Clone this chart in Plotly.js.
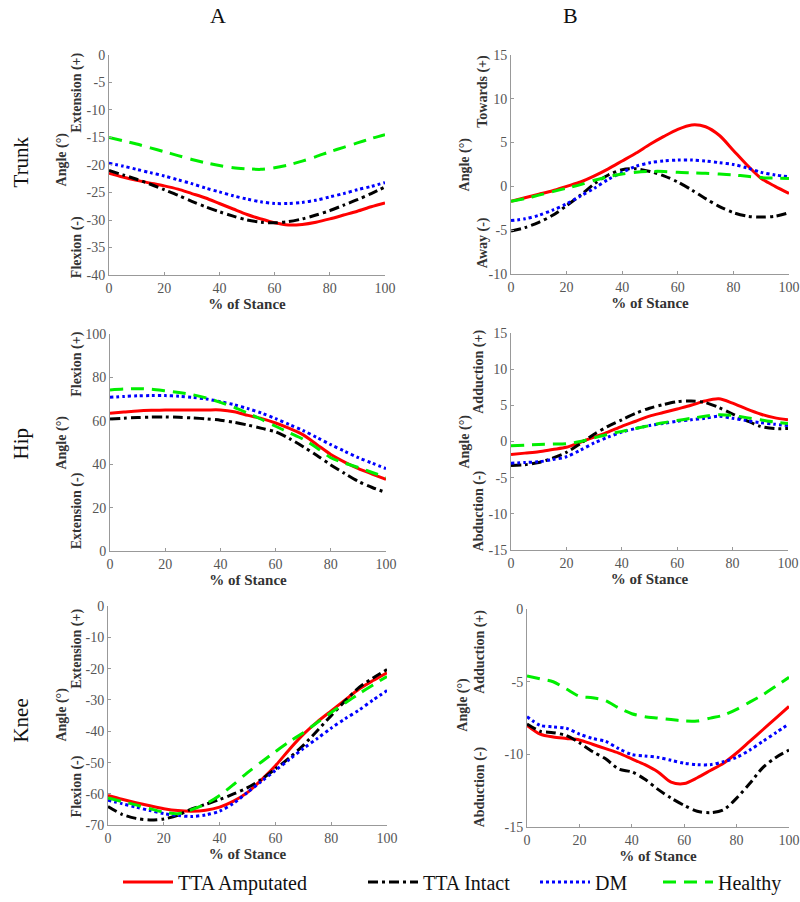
<!DOCTYPE html>
<html><head><meta charset="utf-8">
<script src="https://cdn.plot.ly/plotly-3.0.1.min.js"></script>
<style>html,body{margin:0;padding:0;background:#fff}#plot{width:800px;height:902px}</style>
</head><body><div id="plot"></div>
<script>
// % of stance grid
const stance = [0,5,10,15,20,25,30,35,40,45,50,55,60,65,70,75,80,85,90,95,100];
const groups = ["TTA Amputated","TTA Intact","DM","Healthy"];

// Trunk - A (flexion/extension)
const trunkA_amp = [-21.5,-22.2,-22.8,-23.3,-23.8,-24.4,-25.2,-26.0,-27.0,-28.0,-29.0,-29.8,-30.5,-30.9,-30.8,-30.4,-29.8,-29.1,-28.4,-27.6,-26.9];
const trunkA_int = [-21.0,-21.8,-22.6,-23.5,-24.5,-25.5,-26.6,-27.6,-28.5,-29.3,-30.0,-30.4,-30.5,-30.3,-29.8,-29.1,-28.3,-27.3,-26.3,-25.2,-24.0];
const trunkA_dm  = [-19.7,-20.2,-20.8,-21.4,-22.0,-22.7,-23.4,-24.2,-24.9,-25.6,-26.2,-26.7,-27.0,-27.0,-26.8,-26.4,-25.8,-25.2,-24.5,-23.9,-23.2];
const trunkA_hea = [-15.0,-15.6,-16.2,-16.9,-17.6,-18.3,-19.0,-19.6,-20.1,-20.5,-20.7,-20.8,-20.5,-20.0,-19.3,-18.5,-17.6,-16.8,-16.0,-15.2,-14.5];

// Trunk - B (towards/away)
const trunkB_amp = [-1.7,-1.3,-0.9,-0.5,0.0,0.5,1.2,2.0,2.9,3.8,4.8,5.7,6.5,7.0,6.8,5.8,4.1,2.4,0.9,0.0,-0.8];
const trunkB_int = [-5.1,-4.7,-4.1,-3.3,-2.2,-1.0,0.3,1.3,1.9,2.0,1.7,1.2,0.5,-0.4,-1.4,-2.3,-3.0,-3.4,-3.5,-3.4,-3.0];
const trunkB_dm  = [-3.9,-3.7,-3.3,-2.7,-2.0,-1.1,-0.2,0.8,1.6,2.3,2.7,2.9,3.0,3.0,2.9,2.7,2.5,2.1,1.6,1.3,1.1];
const trunkB_hea = [-1.7,-1.4,-1.0,-0.6,-0.2,0.2,0.7,1.1,1.4,1.6,1.7,1.7,1.6,1.55,1.5,1.4,1.3,1.15,1.0,0.95,0.9];

// Hip - A (flexion/extension)
const hipA_amp = [63.5,64.0,64.5,64.8,65.0,65.0,65.0,65.0,65.0,64.2,62.5,61.0,59.0,56.5,53.5,49.0,44.5,41.0,38.0,35.5,33.0];
const hipA_int = [60.8,61.2,61.5,61.7,61.8,61.6,61.3,60.9,60.3,59.3,58.0,56.5,54.9,51.8,48.1,44.0,39.7,35.8,32.1,29.3,27.0];
const hipA_dm  = [70.8,71.2,71.5,71.6,71.6,71.3,70.8,70.0,68.8,67.4,65.6,63.5,61.0,58.3,55.5,52.3,49.0,46.0,43.0,40.5,38.0];
const hipA_hea = [74.2,74.6,74.8,74.5,73.8,73.0,72.0,70.5,68.5,66.2,63.5,60.6,57.5,54.5,51.5,47.5,43.0,40.5,38.5,36.2,34.0];

// Hip - B (adduction/abduction)
const hipB_amp = [-1.8,-1.6,-1.4,-1.1,-0.8,-0.1,0.6,1.3,2.1,2.8,3.5,4.0,4.5,5.0,5.6,5.9,5.3,4.5,3.8,3.3,3.0];
const hipB_int = [-3.3,-3.2,-2.9,-2.3,-1.5,-0.3,1.0,2.1,3.0,3.9,4.6,5.1,5.5,5.6,5.4,4.7,3.8,2.9,2.1,1.8,1.8];
const hipB_dm  = [-3.0,-2.9,-2.8,-2.5,-2.1,-1.2,-0.2,0.6,1.3,1.8,2.2,2.5,2.8,3.0,3.2,3.5,3.2,2.9,2.6,2.4,2.2];
const hipB_hea = [-0.6,-0.5,-0.4,-0.35,-0.3,0.0,0.5,1.0,1.4,1.8,2.2,2.6,2.9,3.2,3.5,3.7,3.6,3.3,3.0,2.7,2.5];

// Knee - A (extension/flexion)
const kneeA_amp = [-60.5,-61.7,-62.8,-63.8,-64.7,-65.3,-65.5,-65.2,-64.2,-62.3,-59.5,-55.5,-51.0,-45.8,-41.0,-37.0,-33.5,-30.0,-26.5,-23.8,-21.3];
const kneeA_int = [-64.0,-66.5,-67.8,-68.3,-68.0,-66.8,-64.8,-63.3,-61.8,-60.0,-58.0,-55.3,-52.0,-48.5,-44.5,-39.8,-35.0,-30.3,-26.0,-23.0,-20.3];
const kneeA_dm  = [-62.0,-63.1,-64.2,-65.3,-66.3,-66.9,-67.2,-66.7,-65.5,-63.0,-59.5,-56.0,-52.5,-49.0,-45.5,-42.3,-39.0,-36.0,-33.2,-30.0,-27.0];
const kneeA_hea = [-61.3,-62.4,-63.5,-64.7,-65.8,-66.3,-65.0,-63.2,-60.5,-57.0,-53.2,-49.8,-46.5,-43.3,-40.5,-37.2,-34.0,-31.0,-28.0,-25.2,-22.5];

// Knee - B (adduction/abduction)
const kneeB_amp = [-8.0,-8.6,-8.8,-8.9,-9.0,-9.3,-9.6,-9.9,-10.3,-10.7,-11.2,-11.9,-12.0,-11.6,-11.1,-10.6,-9.9,-9.1,-8.3,-7.5,-6.7];
const kneeB_int = [-7.9,-8.4,-8.5,-8.7,-9.2,-9.8,-10.3,-11.0,-11.2,-11.7,-12.4,-13.0,-13.5,-13.9,-14.0,-13.8,-13.0,-12.0,-10.9,-10.2,-9.7];
const kneeB_dm  = [-7.4,-8.0,-8.1,-8.2,-8.6,-8.9,-9.1,-9.6,-10.0,-10.1,-10.2,-10.4,-10.6,-10.7,-10.7,-10.5,-10.2,-9.7,-9.1,-8.5,-7.9];
const kneeB_hea = [-4.6,-4.8,-5.0,-5.5,-6.0,-6.1,-6.3,-6.8,-7.2,-7.4,-7.5,-7.6,-7.7,-7.7,-7.5,-7.3,-6.9,-6.4,-5.9,-5.3,-4.7];

// tick values
const xTicks = [0,20,40,60,80,100];
const trunkA_ticks = [-40,-35,-30,-25,-20,-15,-10,-5,0];
const trunkB_ticks = [-10,-5,0,5,10,15];
const hipA_ticks = [0,20,40,60,80,100];
const hipB_ticks = [-15,-10,-5,0,5,10,15];
const kneeA_ticks = [-70,-60,-50,-40,-30,-20,-10,0];
const kneeB_ticks = [-15,-10,-5,0];

const rowLabels = ["Trunk","Hip","Knee"];
const colLabels = ["A","B"];
const xTitle = "% of Stance";
const angleLabel = "Angle (°)";
const dirLabels = [
  ["Extension (+)","Flexion (-)"],
  ["Towards (+)","Away (-)"],
  ["Flexion (+)","Extension (-)"],
  ["Adduction (+)","Abduction (-)"],
  ["Extension (+)","Flexion (-)"],
  ["Adduction (+)","Abduction (-)"]
];

const W = 800, H = 902;
const px = v => v / W;
const py = v => 1 - v / H;

const styles = [
  {color:"#ff0000", dash:"solid", width:3},
  {color:"#000000", dash:"10px,4px,3px,4px", width:3},
  {color:"#0000ff", dash:"dot", width:3},
  {color:"#00ee00", dash:"13px,8px", width:3}
];

const panels = [
  {series:[trunkA_amp,trunkA_int,trunkA_dm,trunkA_hea], ticks:trunkA_ticks, range:[-40,0], box:[109,385,55,276], dirX:77, angX:62, up:93, down:248, ang:160},
  {series:[trunkB_amp,trunkB_int,trunkB_dm,trunkB_hea], ticks:trunkB_ticks, range:[-10,15], box:[511,789,55,275], dirX:483, angX:465, up:92, down:244, ang:165},
  {series:[hipA_amp,hipA_int,hipA_dm,hipA_hea], ticks:hipA_ticks, range:[0,100], box:[110,386,335,553], dirX:77, angX:62, up:366, down:513, ang:444},
  {series:[hipB_amp,hipB_int,hipB_dm,hipB_hea], ticks:hipB_ticks, range:[-15,15], box:[511,788,334,552], dirX:479, angX:465, up:373, down:513, ang:443},
  {series:[kneeA_amp,kneeA_int,kneeA_dm,kneeA_hea], ticks:kneeA_ticks, range:[-70,0], box:[108,387,608,828], dirX:77, angX:62, up:651, down:789, ang:717},
  {series:[kneeB_amp,kneeB_int,kneeB_dm,kneeB_hea], ticks:kneeB_ticks, range:[-15,0], box:[527,789,611,830], dirX:480, angX:463, up:654, down:790, ang:707}
];

const serif = "Liberation Serif";
const data = [];
const layout = {
  width:W, height:H, margin:{l:0,r:0,t:0,b:0},
  paper_bgcolor:"#fff", plot_bgcolor:"#fff",
  font:{family:serif, color:"#555", size:13},
  annotations:[], showlegend:true
};
const legendNames = ["legend","legend2","legend3","legend4"];
const legendX = [118, 363, 535, 658];

panels.forEach((p, i) => {
  const n = i + 1;
  const xa = "xaxis" + (n === 1 ? "" : n), ya = "yaxis" + (n === 1 ? "" : n);
  const common = {showline:true, linecolor:"#999", linewidth:1, ticks:"inside", ticklen:3, tickcolor:"#999",
    showgrid:false, zeroline:false, mirror:false, tickfont:{family:serif, size:14, color:"#555"}};
  layout[xa] = Object.assign({}, common, {domain:[px(p.box[0]), px(p.box[1])], range:[0,100],
    tickvals:xTicks, ticktext:xTicks.map(String), anchor:"y"+(n===1?"":n),
    title:{text:"<b>"+xTitle+"</b>", font:{family:serif, size:15, color:"#333"}, standoff:2}});
  layout[ya] = Object.assign({}, common, {domain:[py(p.box[3]), py(p.box[2])], range:p.range,
    tickvals:p.ticks, ticktext:p.ticks.map(String), anchor:"x"+(n===1?"":n)});
  p.series.forEach((s, k) => {
    data.push({x:stance, y:s, type:"scatter", mode:"lines", name:groups[k],
      xaxis:"x"+(n===1?"":n), yaxis:"y"+(n===1?"":n),
      line:Object.assign({shape:"spline", smoothing:0.8}, styles[k]),
      showlegend:i===0, legend:legendNames[k], hoverinfo:"skip"});
  });
  const lab = (text, x, y) => layout.annotations.push({text:"<b>"+text+"</b>", xref:"paper", yref:"paper",
    x:px(x), y:py(y), xanchor:"center", yanchor:"middle", textangle:-90, showarrow:false,
    font:{family:serif, size:14, color:"#333"}});
  lab(dirLabels[i][0], p.dirX, p.up);
  lab(dirLabels[i][1], p.dirX, p.down);
  lab(angleLabel, p.angX, p.ang);
});

[[163],[445],[723]].forEach((r, i) => layout.annotations.push({text:rowLabels[i], xref:"paper", yref:"paper",
  x:px(21), y:py(r[0]), xanchor:"center", yanchor:"middle", textangle:-90, showarrow:false,
  font:{family:serif, size:21, color:"#111"}}));
[218, 570].forEach((x, i) => layout.annotations.push({text:colLabels[i], xref:"paper", yref:"paper",
  x:px(x), y:py(16), xanchor:"center", yanchor:"middle", showarrow:false,
  font:{family:serif, size:22, color:"#111"}}));

legendNames.forEach((ln, k) => {
  layout[ln] = {orientation:"h", x:px(legendX[k]), y:py(885), xanchor:"left", yanchor:"middle",
    bgcolor:"rgba(0,0,0,0)", borderwidth:0, font:{family:serif, size:20, color:"#111"}, itemwidth:50};
});

Plotly.newPlot("plot", data, layout, {displayModeBar:false, staticPlot:true});
</script></body></html>
